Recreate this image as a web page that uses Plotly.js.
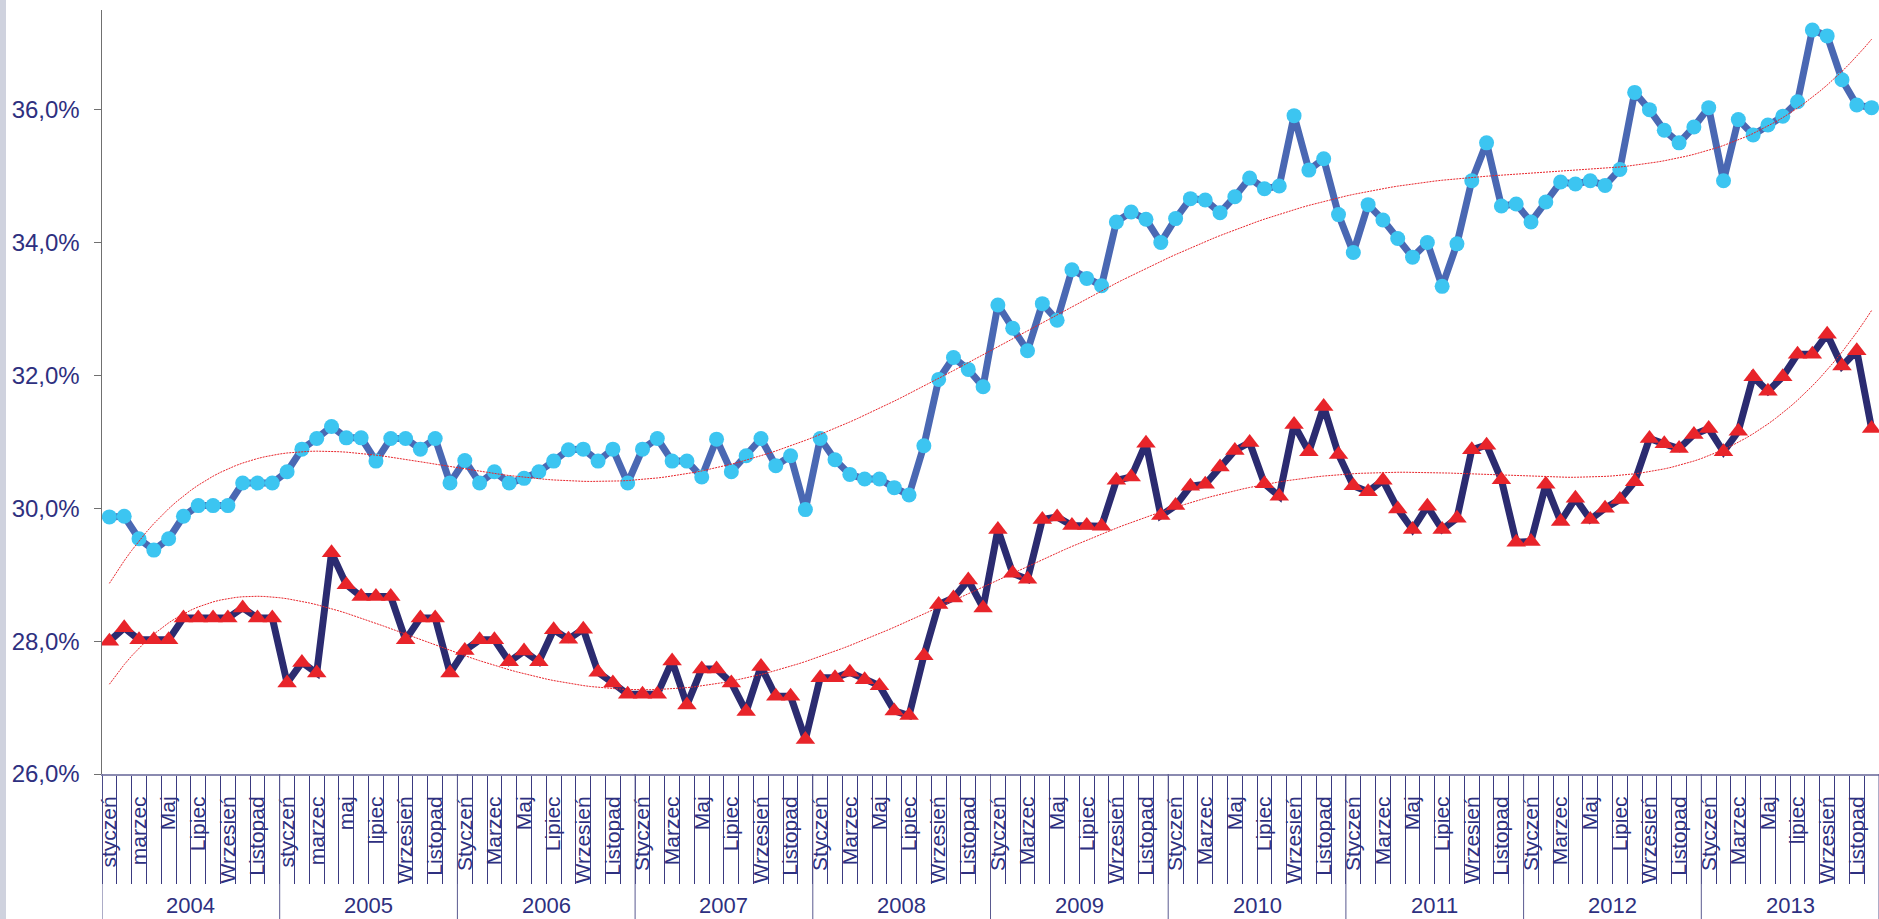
<!DOCTYPE html>
<html>
<head>
<meta charset="utf-8">
<script src="https://cdn.plot.ly/plotly-3.0.1.min.js"></script>
<style>
  html, body { margin: 0; padding: 0; background: #ffffff; overflow: hidden; }
  #strip { position: absolute; left: 0; top: 0; width: 6px; height: 919px; background: #cfd2de; }
  #chart { position: absolute; left: 0; top: 0; width: 1879px; height: 919px; }
</style>
</head>
<body>
<div id="strip"></div>
<div id="chart"></div>
<script>
// ---- data ----
const years = ["2004","2005","2006","2007","2008","2009","2010","2011","2012","2013"];

const monthLabels2004 = ["styczeń","marzec","Maj","Lipiec","Wrzesień","Listopad"];
const monthLabels2005 = ["styczeń","marzec","maj","lipiec","Wrzesień","Listopad"];
const monthLabelsStd  = ["Styczeń","Marzec","Maj","Lipiec","Wrzesień","Listopad"];
const monthLabels2013 = ["Styczeń","Marzec","Maj","lipiec","Wrzesień","Listopad"];

const seriesUpper = [
  29.87,29.88,29.54,29.37,29.54,29.88,30.04,30.04,30.04,30.38,30.38,30.38,
  30.55,30.89,31.05,31.23,31.06,31.06,30.71,31.05,31.05,30.89,31.05,30.38,
  30.72,30.38,30.55,30.38,30.45,30.55,30.71,30.88,30.89,30.71,30.89,30.38,
  30.89,31.05,30.71,30.71,30.47,31.04,30.55,30.79,31.05,30.64,30.79,29.98,
  31.05,30.73,30.51,30.44,30.44,30.31,30.20,30.94,31.94,32.27,32.09,31.83,
  33.06,32.71,32.37,33.08,32.83,33.59,33.46,33.35,34.31,34.46,34.35,34.00,
  34.36,34.66,34.64,34.45,34.69,34.97,34.81,34.85,35.91,35.09,35.26,34.42,
  33.85,34.57,34.34,34.06,33.78,34.00,33.34,33.98,34.93,35.50,34.55,34.58,
  34.31,34.61,34.91,34.88,34.93,34.86,35.10,36.26,36.00,35.69,35.50,35.74,
  36.03,34.93,35.85,35.62,35.77,35.90,36.12,37.20,37.11,36.45,36.07,36.03
];

const seriesLower = [
  28.00,28.20,28.02,28.02,28.02,28.35,28.35,28.35,28.35,28.50,28.35,28.35,
  27.37,27.68,27.52,29.33,28.85,28.67,28.67,28.67,28.02,28.35,28.35,27.52,
  27.86,28.02,28.02,27.69,27.85,27.69,28.17,28.03,28.18,27.53,27.37,27.20,
  27.20,27.20,27.70,27.04,27.58,27.58,27.37,26.94,27.62,27.17,27.17,26.52,
  27.45,27.45,27.53,27.42,27.33,26.95,26.88,27.78,28.55,28.65,28.92,28.50,
  29.68,29.02,28.93,29.83,29.87,29.74,29.74,29.73,30.42,30.47,30.98,29.89,
  30.04,30.33,30.36,30.62,30.87,30.99,30.37,30.18,31.26,30.85,31.53,30.81,
  30.34,30.25,30.42,29.99,29.68,30.03,29.68,29.85,30.88,30.95,30.43,29.49,
  29.50,30.36,29.80,30.15,29.83,30.00,30.13,30.40,31.05,30.97,30.90,31.11,
  31.20,30.85,31.16,31.98,31.76,31.98,32.32,32.32,32.62,32.14,32.37,31.20
];

const yTickValues = [26, 28, 30, 32, 34, 36];
const yTickLabels = ["26,0%", "28,0%", "30,0%", "32,0%", "34,0%", "36,0%"];
const trendOrder = 6;

// ---- build axes helpers ----
const monthIndex = seriesUpper.map((_, i) => i);
const labelSets = years.map(y => y === "2004" ? monthLabels2004 : y === "2005" ? monthLabels2005 : y === "2013" ? monthLabels2013 : monthLabelsStd);
const tickVals = [], tickText = [];
labelSets.forEach((set, yi) => set.forEach((lab, k) => { tickVals.push(yi * 12 + k * 2); tickText.push(lab); }));

// polynomial least-squares trend (as a spreadsheet trendline would)
function polyTrend(xs, ys, deg) {
  const xmin = Math.min(...xs), xmax = Math.max(...xs);
  const sc = x => 2 * (x - xmin) / (xmax - xmin) - 1;
  const m = deg + 1;
  const A = Array.from({length: m}, () => new Array(m + 1).fill(0));
  xs.forEach((x, k) => {
    const t = sc(x); const p = []; let v = 1;
    for (let j = 0; j < m; j++) { p.push(v); v *= t; }
    for (let a = 0; a < m; a++) { for (let b = 0; b < m; b++) A[a][b] += p[a] * p[b]; A[a][m] += p[a] * ys[k]; }
  });
  for (let c = 0; c < m; c++) {
    let piv = c;
    for (let r = c + 1; r < m; r++) if (Math.abs(A[r][c]) > Math.abs(A[piv][c])) piv = r;
    [A[c], A[piv]] = [A[piv], A[c]];
    for (let r = 0; r < m; r++) {
      if (r === c) continue;
      const f = A[r][c] / A[c][c];
      for (let k = c; k <= m; k++) A[r][k] -= f * A[c][k];
    }
  }
  const coef = A.map((row, i) => row[m] / row[i]);
  return x => { const t = sc(x); let r = 0, v = 1; for (let j = 0; j < m; j++) { r += coef[j] * v; v *= t; } return r; };
}
const fU = polyTrend(monthIndex, seriesUpper, trendOrder);
const fL = polyTrend(monthIndex, seriesLower, trendOrder);
const trendX = [];
for (let x = 0; x <= monthIndex[monthIndex.length - 1] + 1e-9; x += 0.5) trendX.push(x);

const navy = '#2e3080';
const fontFam = 'Liberation Sans, Arial, sans-serif';
const traces = [
  { x: monthIndex, y: seriesUpper, type: 'scatter', mode: 'lines+markers', name: 'Seria 1',
    line: { color: '#4a68b3', width: 7 }, marker: { symbol: 'circle', size: 15, color: '#3cc5f1' } },
  { x: monthIndex, y: seriesLower, type: 'scatter', mode: 'lines+markers', name: 'Seria 2',
    line: { color: '#2b2b70', width: 7 }, marker: { symbol: 'triangle-up', size: 17, color: '#e8242a' } },
  { x: trendX, y: trendX.map(fU), type: 'scatter', mode: 'lines', name: 'Trend 1',
    line: { color: '#e8242a', width: 1, dash: '2px,1px' }, hoverinfo: 'skip' },
  { x: trendX, y: trendX.map(fL), type: 'scatter', mode: 'lines', name: 'Trend 2',
    line: { color: '#e8242a', width: 1, dash: '2px,1px' }, hoverinfo: 'skip' }
];

const plotH = 919 - 10 - 145;
const shapes = [];
for (let k = 0; k <= years.length; k++) {
  shapes.push({ type: 'line', xref: 'x', yref: 'paper', x0: k * 12 - 0.5, x1: k * 12 - 0.5,
    y0: 0, y1: -145 / plotH, line: { color: '#5a5a90', width: 1 } });
}
const annotations = years.map((y, k) => ({
  text: y, xref: 'x', yref: 'paper', x: k * 12 + 5.5, y: -132 / plotH, yanchor: 'middle',
  showarrow: false, font: { family: fontFam, size: 22, color: navy }
}));

const layout = {
  width: 1879, height: 919,
  margin: { l: 102, r: 0, t: 10, b: 145 },
  paper_bgcolor: 'rgba(0,0,0,0)', plot_bgcolor: 'rgba(0,0,0,0)',
  showlegend: false,
  font: { family: fontFam, color: navy },
  xaxis: {
    range: [-0.5, 119.5], showgrid: false, zeroline: false,
    showline: true, linecolor: '#8a8ab0', linewidth: 2,
    tickmode: 'array', tickvals: tickVals, ticktext: tickText,
    tickangle: -90, ticks: '', ticklabelstandoff: 12,
    tickfont: { family: fontFam, size: 21, color: navy },
    minor: { tickmode: 'linear', tick0: -0.5, dtick: 1, ticks: 'outside', ticklen: 108,
             tickcolor: '#3a3a80', tickwidth: 1, showgrid: false }
  },
  yaxis: {
    range: [26, 37.5], showgrid: false, zeroline: false,
    showline: true, linecolor: '#707070', linewidth: 1.5,
    tickmode: 'array', tickvals: yTickValues, ticktext: yTickLabels,
    ticks: 'outside', ticklen: 7, tickcolor: '#707070', ticklabelstandoff: 9,
    tickfont: { family: fontFam, size: 24, color: navy }
  },
  shapes: shapes,
  annotations: annotations
};

Plotly.newPlot('chart', traces, layout, { displayModeBar: false, staticPlot: true });
</script>
</body>
</html>
